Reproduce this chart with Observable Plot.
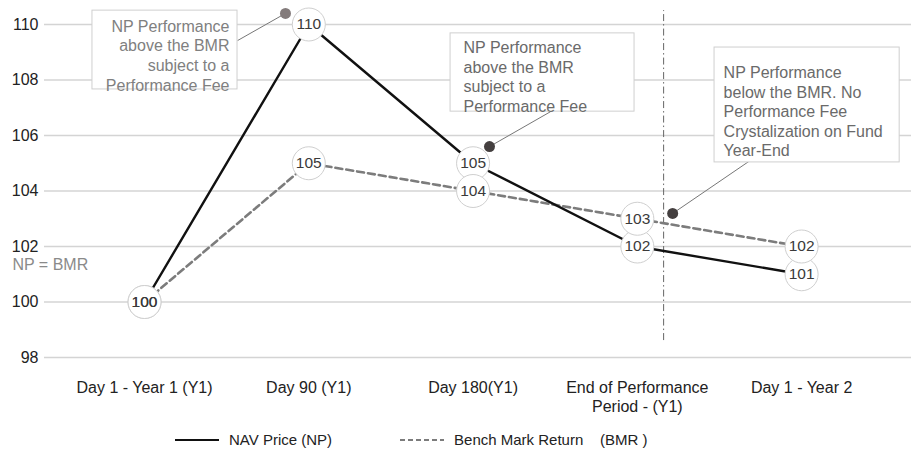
<!DOCTYPE html>
<html>
<head>
<meta charset="utf-8">
<script src="https://cdn.jsdelivr.net/npm/d3@7"></script>
<script src="https://cdn.jsdelivr.net/npm/@observablehq/plot@0.6"></script>
<style>
  html, body { margin: 0; padding: 0; background: #fff; }
  body { font-family: "Liberation Sans", Arial, sans-serif; width: 911px; height: 451px; overflow: hidden; }
  #legend { display: flex; align-items: center; height: 31px; margin-top: 4px; padding-left: 175px; font-size: 15px; color: #222; white-space: pre; }
  #legend .item { display: flex; align-items: center; }
  #legend svg { margin-right: 10px; }
</style>
</head>
<body>
<div id="chart"></div>
<div id="legend"></div>
<script>
// ---- data ----
const categories = ["Day 1 - Year 1 (Y1)", "Day 90 (Y1)", "Day 180(Y1)", "End of Performance\nPeriod - (Y1)", "Day 1 - Year 2"];
const npValues = [100, 110, 105, 102, 101];
const bmrValues = [100, 105, 104, 103, 102];
const yTicks = [98, 100, 102, 104, 106, 108, 110];
const seriesNames = ["NAV Price (NP)", "Bench Mark Return    (BMR )"];

// annotation callouts (x in category index units, y in value units)
const calloutTexts = [
  "NP Performance\nabove the BMR\nsubject to a\nPerformance Fee",
  "NP Performance\nabove the BMR\nsubject to a\nPerformance Fee",
  "NP Performance\nbelow the BMR. No\nPerformance Fee\nCrystalization on Fund\nYear-End"
];
const calloutBoxX1 = [-0.317, 1.863, 3.470];
const calloutBoxX2 = [0.566, 2.983, 4.597];
const calloutBoxY1 = [107.66, 106.86, 105.03];
const calloutBoxY2 = [110.50, 109.68, 109.17];
const calloutTextX = [0.517, 1.942, 3.525];
const calloutTextY = [110.25, 109.46, 108.56];
const calloutAnchor = ["end", "start", "start"];
const leaderFromX = [0.566, 2.472, 3.732];
const leaderFromY = [109.42, 106.86, 105.28];
const dotX = [0.858, 2.100, 3.215];
const dotY = [110.40, 105.60, 103.19];
const dotFill = ["#837b7b", "#443f3f", "#443f3f"];
const periodEndX = 3.16;
const equalLabel = "NP = BMR";
const equalLabelX = -0.804;
const equalLabelY = 101.32;

// ---- derived tables ----
const np = categories.map((c, i) => ({i, v: npValues[i], s: "NP"}));
const bmr = categories.map((c, i) => ({i, v: bmrValues[i], s: "BMR"}));
const labelPts = [...np, ...bmr];
const callouts = calloutTexts.map((t, k) => ({
  t, x1: calloutBoxX1[k], x2: calloutBoxX2[k], y1: calloutBoxY1[k], y2: calloutBoxY2[k],
  tx: calloutTextX[k], ty: calloutTextY[k], anchor: calloutAnchor[k],
  lx1: leaderFromX[k], ly1: leaderFromY[k], dx: dotX[k], dy: dotY[k], fill: dotFill[k]
}));

const chart = Plot.plot({
  width: 911,
  height: 420,
  marginLeft: 44,
  marginRight: 0,
  marginTop: 24,
  marginBottom: 63,
  style: {fontFamily: "'Liberation Sans', Arial, sans-serif", background: "#fff"},
  x: {type: "linear", domain: [-0.609, 4.669]},
  y: {domain: [98, 110]},
  marks: [
    Plot.gridY(yTicks, {stroke: "#d4d4d4", strokeOpacity: 1, strokeWidth: 1.5}),
    Plot.axisY(yTicks, {tickSize: 0, tickPadding: 6, fontSize: 16, fill: "#222", label: null}),
    Plot.axisX(categories.map((c, i) => i), {
      tickSize: 0, tickPadding: 22, fontSize: 16, fill: "#222", lineHeight: 1.2,
      tickFormat: i => categories[i], label: null
    }),
    Plot.ruleX([periodEndX], {y1: 98.61, y2: 110.5, stroke: "#666", strokeWidth: 1, strokeDasharray: "7,3,1.5,3"}),
    Plot.line(bmr, {x: "i", y: "v", stroke: "#7c7c7c", strokeWidth: 2.6, strokeDasharray: "7,4"}),
    Plot.line(np, {x: "i", y: "v", stroke: "#111", strokeWidth: 2.4}),
    Plot.dot(labelPts, {x: "i", y: "v", r: 16.5, fill: "#fff", stroke: "#cfcfcf", strokeWidth: 1}),
    Plot.text(labelPts, {x: "i", y: "v", text: d => String(d.v), fontSize: 15.5, fill: "#3a3a3a"}),
    Plot.text([equalLabel], {x: [equalLabelX], y: [equalLabelY], text: d => d, textAnchor: "start", fontSize: 16, fill: "#8a8a8a"}),
    Plot.link(callouts, {x1: "lx1", y1: "ly1", x2: "dx", y2: "dy", stroke: "#777", strokeWidth: 1}),
    Plot.rect(callouts, {x1: "x1", x2: "x2", y1: "y1", y2: "y2", fill: "#fff", stroke: "#cfcfcf", strokeWidth: 1}),
    Plot.dot(callouts, {x: "dx", y: "dy", r: 5.5, fill: "fill", stroke: null}),
    Plot.text(callouts.filter(d => d.anchor === "end"), {x: "tx", y: "ty", text: "t", textAnchor: "end", lineAnchor: "top", lineHeight: 1.24, fontSize: 16, fill: "#808080"}),
    Plot.text(callouts.filter(d => d.anchor === "start"), {x: "tx", y: "ty", text: "t", textAnchor: "start", lineAnchor: "top", lineHeight: 1.22, fontSize: 16, fill: "#6a6a6a"})
  ]
});
document.getElementById("chart").appendChild(chart);

// ---- legend ----
const legend = document.getElementById("legend");
const legendStyles = [
  {stroke: "#111", width: 2, dash: null},
  {stroke: "#7c7c7c", width: 2, dash: "5,3"}
];
seriesNames.forEach((name, k) => {
  const item = document.createElement("div");
  item.className = "item";
  if (k > 0) item.style.marginLeft = "68px";
  const st = legendStyles[k];
  item.innerHTML = `<svg width="44" height="10"><line x1="0" y1="5" x2="44" y2="5" stroke="${st.stroke}" stroke-width="${st.width}" ${st.dash ? `stroke-dasharray="${st.dash}"` : ""}/></svg><span>${name}</span>`;
  legend.appendChild(item);
});
</script>
</body>
</html>
